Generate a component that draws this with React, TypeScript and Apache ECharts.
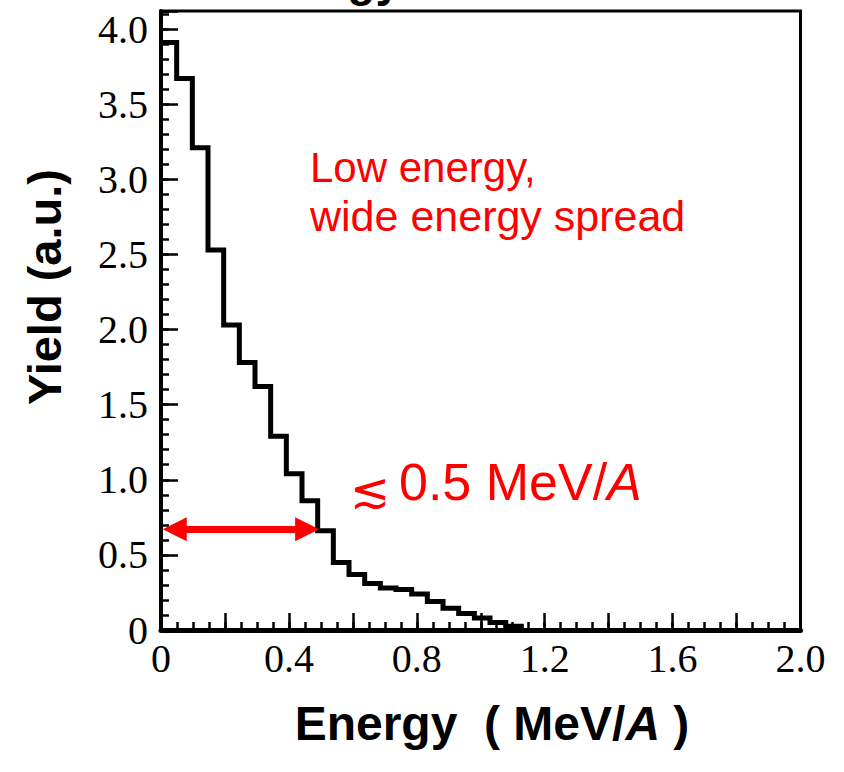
import { useEffect, useRef } from 'react';
import * as echarts from 'echarts';

// Histogram: uniform bins starting at 0 (MeV/A), yield in a.u.
const binWidth = 0.049;
const yieldValues = [
  3.91, 3.67, 3.21, 2.53, 2.03, 1.78, 1.62, 1.29, 1.04, 0.86, 0.66, 0.45,
  0.37, 0.31, 0.28, 0.27, 0.24, 0.19, 0.145, 0.11, 0.08, 0.05, 0.025,
];
const xLabelValues = [0, 0.4, 0.8, 1.2, 1.6, 2.0];
const yLabelValues = [0, 0.5, 1.0, 1.5, 2.0, 2.5, 3.0, 3.5, 4.0];
const xRange = [0, 2.0];
const yRange = [0, 4.12];
// width annotation (double arrow) in data units
const arrowY = 0.67;
const arrowFrom = 0.043;
const arrowTo = 0.457;

function stepPoints(): number[][] {
  const pts: number[][] = [];
  yieldValues.forEach((v, i) => {
    pts.push([i * binWidth, v]);
    pts.push([(i + 1) * binWidth, v]);
  });
  pts.push([yieldValues.length * binWidth, 0]);
  return pts;
}

const fmt = (list: number[]) => (v: number) => {
  const hit = list.find((t) => Math.abs(t - v) < 1e-6);
  if (hit === undefined) return '';
  return hit === 0 ? '0' : hit.toFixed(1);
};

export default function App() {
  const ref = useRef<HTMLDivElement>(null);
  useEffect(() => {
    document.body.style.margin = '0';
    const chart = echarts.init(ref.current!, null, { renderer: 'svg' });
    const tickFont = {
      color: '#000',
      fontFamily: 'Liberation Serif',
      fontSize: 40,
    };
    const option: any = {
      animation: false,
      backgroundColor: '#fff',
      grid: {
        left: 161,
        right: 43.5,
        top: 11,
        bottom: 142,
        show: true,
        borderColor: '#000',
        borderWidth: 3,
        backgroundColor: 'transparent',
      },
      xAxis: [
        {
          type: 'value',
          min: xRange[0],
          max: xRange[1],
          interval: 0.05,
          position: 'bottom',
          axisLine: { show: true, lineStyle: { color: '#000', width: 5 } },
          axisTick: { show: true, inside: true, length: 8, lineStyle: { color: '#000', width: 2.5 } },
          axisLabel: { ...tickFont, margin: 8, formatter: fmt(xLabelValues) },
          splitLine: { show: false },
        },
        {
          type: 'value',
          min: xRange[0],
          max: xRange[1],
          interval: 0.2,
          position: 'bottom',
          axisLine: { show: false },
          axisTick: { show: true, inside: true, length: 17, lineStyle: { color: '#000', width: 2.5 } },
          axisLabel: { show: false },
          splitLine: { show: false },
        },
      ],
      yAxis: [
        {
          type: 'value',
          min: yRange[0],
          max: yRange[1],
          interval: 0.1,
          position: 'left',
          axisLine: { show: true, lineStyle: { color: '#000', width: 4 } },
          axisTick: { show: true, inside: true, length: 8, lineStyle: { color: '#000', width: 2.5 } },
          axisLabel: { ...tickFont, margin: 13, formatter: fmt(yLabelValues) },
          splitLine: { show: false },
        },
        {
          type: 'value',
          min: yRange[0],
          max: yRange[1],
          interval: 0.5,
          position: 'left',
          axisLine: { show: false },
          axisTick: { show: true, inside: true, length: 17, lineStyle: { color: '#000', width: 2.5 } },
          axisLabel: { show: false },
          splitLine: { show: false },
        },
      ],
      series: [
        {
          type: 'line',
          xAxisIndex: 0,
          yAxisIndex: 0,
          data: stepPoints(),
          symbol: 'none',
          clip: false,
          lineStyle: { color: '#000', width: 5, join: 'miter' },
          z: 3,
          markLine: {
            silent: true,
            symbol: ['triangle', 'triangle'],
            symbolSize: [24, 24],
            label: { show: false },
            lineStyle: { color: '#ff0000', width: 7, type: 'solid', opacity: 1 },
            emphasis: { disabled: true },
            data: [[{ coord: [arrowFrom, arrowY] }, { coord: [arrowTo, arrowY] }]],
            z: 5,
          },
        },
      ],
      graphic: [
        {
          type: 'text',
          x: 401,
          y: -20,
          style: {
            text: 'Energy',
            align: 'right',
            verticalAlign: 'middle',
            fontFamily: 'Liberation Sans',
            fontWeight: 'bold',
            fontSize: 46,
            fill: '#000',
          },
        },
        {
          type: 'text',
          x: 44,
          y: 287,
          rotation: Math.PI / 2,
          style: {
            text: 'Yield (a.u.)',
            align: 'center',
            verticalAlign: 'middle',
            fontFamily: 'Liberation Sans',
            fontWeight: 'bold',
            fontSize: 47,
            fill: '#000',
          },
        },
        {
          type: 'text',
          x: 492,
          y: 723,
          style: {
            text: '{b|Energy  ( MeV/}{bi|A}{b| )}',
            align: 'center',
            verticalAlign: 'middle',
            rich: {
              b: { fontFamily: 'Liberation Sans', fontWeight: 'bold', fontSize: 48, fill: '#000' },
              bi: { fontFamily: 'Liberation Sans', fontWeight: 'bold', fontStyle: 'italic', fontSize: 48, fill: '#000' },
            },
          },
        },
        {
          type: 'text',
          x: 310,
          y: 167,
          style: {
            text: 'Low energy,',
            align: 'left',
            verticalAlign: 'middle',
            fontFamily: 'Liberation Sans',
            fontSize: 42,
            fill: '#ff0000',
          },
        },
        {
          type: 'text',
          x: 310,
          y: 215.5,
          style: {
            text: 'wide energy spread',
            align: 'left',
            verticalAlign: 'middle',
            fontFamily: 'Liberation Sans',
            fontSize: 43,
            fill: '#ff0000',
          },
        },
        {
          type: 'text',
          x: 370,
          y: 490,
          style: {
            text: '≲',
            align: 'center',
            verticalAlign: 'middle',
            fontFamily: 'DejaVu Sans',
            fontSize: 48,
            fill: '#ff0000',
          },
        },
        {
          type: 'text',
          x: 399,
          y: 482,
          style: {
            text: '{n|0.5 MeV/}{i|A}',
            align: 'left',
            verticalAlign: 'middle',
            rich: {
              n: { fontFamily: 'Liberation Sans', fontSize: 52, fill: '#ff0000' },
              i: { fontFamily: 'Liberation Sans', fontStyle: 'italic', fontSize: 52, fill: '#ff0000' },
            },
          },
        },
      ],
    };
    chart.setOption(option);
    return () => chart.dispose();
  }, []);
  return <div ref={ref} style={{ width: 844, height: 772 }} />;
}
